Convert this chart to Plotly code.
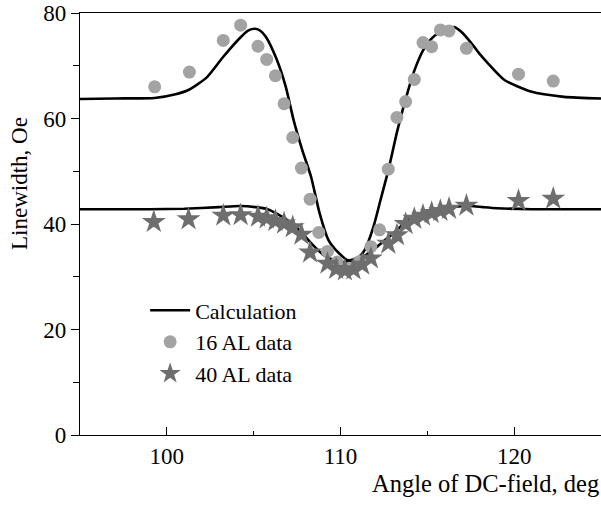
import plotly.graph_objects as go

# Calculation curves
calc16_x = [95, 97, 99.3, 100.5, 101.3, 102.3, 103.25, 104.25, 104.7, 105.1, 105.4, 105.7,
            106.3, 106.85, 107.3, 107.8, 108.3, 108.8, 109.3, 109.9, 110.45, 111.0, 111.4,
            111.9, 112.3, 112.77, 113.28, 113.9, 114.3, 114.77, 115.2, 115.63, 116.1, 116.58,
            117.0, 117.53, 118.0, 118.48, 119.44, 120.96, 122.87, 125]
calc16_y = [63.7, 63.8, 63.9, 64.6, 65.5, 67.8, 71.7, 75.4, 76.7, 77.0, 76.6, 75.5,
            71.4, 66.0, 59.7, 54.0, 49.0, 42.0, 37.0, 34.5, 33.1, 33.6, 35.1,
            39.5, 44.5, 50.4, 57.8, 65.4, 69.5, 73.0, 75.0, 76.2, 77.0, 77.3,
            76.3, 74.3, 72.3, 70.5, 67.3, 65.1, 64.1, 63.8]

calc40_x = [95, 99, 101, 103, 104.2, 105.1, 105.8, 106.3, 107.0, 107.5, 108.0, 108.5, 109.0,
            109.5, 110.0, 110.5, 111.0, 111.5, 112.0, 112.5, 113.0, 113.5, 114.0, 114.5,
            115.2, 116.0, 116.6, 117.5, 118.2, 119.0, 121.0, 125]
calc40_y = [42.8, 42.8, 42.9, 43.2, 43.4, 43.2, 42.8, 42.0, 40.6, 39.3, 37.5, 35.7, 34.2,
            33.3, 32.9, 32.8, 33.3, 34.2, 35.4, 36.8, 38.1, 39.6, 40.9, 41.7,
            42.4, 43.0, 43.3, 43.4, 43.2, 43.0, 42.8, 42.8]

# 16 AL data (circles)
al16_x = [99.3, 101.3, 103.25, 104.25, 105.25, 105.75, 106.25, 106.75, 107.25, 107.75,
          108.25, 108.75, 109.25, 109.8, 110.5, 111.1, 111.75, 112.25, 112.75, 113.25,
          113.75, 114.25, 114.75, 115.25, 115.75, 116.25, 117.25, 120.25, 122.25]
al16_y = [66.0, 68.8, 74.8, 77.7, 73.7, 71.2, 68.1, 62.8, 56.4, 50.6,
          44.7, 38.4, 34.8, 32.8, 31.6, 32.9, 35.7, 38.9, 50.4, 60.2,
          63.2, 67.4, 74.4, 73.6, 76.8, 76.6, 73.3, 68.4, 67.1]

# 40 AL data (stars)
al40_x = [99.25, 101.25, 103.25, 104.25, 105.25, 105.75, 106.25, 106.75, 107.25, 107.75,
          108.25, 109.25, 109.75, 110.25, 110.75, 111.25, 111.75, 112.75, 113.25, 113.75,
          114.25, 114.75, 115.25, 115.75, 116.25, 117.25, 120.25, 122.25]
al40_y = [40.4, 40.9, 41.6, 41.7, 41.4, 41.1, 40.6, 40.1, 39.4, 38.0,
          34.6, 32.5, 31.5, 31.2, 31.4, 32.3, 33.5, 36.3, 37.9, 40.0,
          41.0, 41.6, 42.1, 42.5, 42.9, 43.5, 44.4, 44.8]

FONT = "Liberation Serif"
FS = 23

fig = go.Figure()
fig.add_trace(go.Scatter(x=calc16_x, y=calc16_y, mode="lines", name="Calculation",
                         line=dict(color="black", width=2.6, shape="spline", smoothing=0.6)))
fig.add_trace(go.Scatter(x=calc40_x, y=calc40_y, mode="lines", showlegend=False,
                         line=dict(color="black", width=2.6, shape="spline", smoothing=0.6)))
fig.add_trace(go.Scatter(x=al16_x, y=al16_y, mode="markers", name="16 AL data",
                         marker=dict(symbol="circle", size=13, color="#a3a3a3")))
fig.add_trace(go.Scatter(x=al40_x, y=al40_y, mode="markers", name="40 AL data",
                         marker=dict(symbol="star", size=18, color="#6e6e6e")))

fig.update_layout(
    width=601, height=518,
    margin=dict(l=80, r=0, t=13, b=83),
    paper_bgcolor="white", plot_bgcolor="white",
    font=dict(family=FONT, size=FS, color="black"),
    showlegend=True,
    legend=dict(x=0.125, y=0.345, xanchor="left", yanchor="top",
                bgcolor="rgba(0,0,0,0)", font=dict(family=FONT, size=22),
                tracegroupgap=0, itemwidth=40),
    xaxis=dict(range=[95, 125], showgrid=False, zeroline=False,
               showline=True, linecolor="black", linewidth=1.3, mirror=True,
               tickmode="array", tickvals=[100, 110, 120],
               ticks="inside", ticklen=8, tickwidth=1.2, tickcolor="black",
               minor=dict(tickvals=[105, 115], ticks="inside", ticklen=4,
                          tickwidth=1.2, tickcolor="black"),
               tickfont=dict(family=FONT, size=FS)),
    yaxis=dict(range=[0, 80], showgrid=False, zeroline=False,
               showline=True, linecolor="black", linewidth=1.3,
               tickmode="array", tickvals=[0, 20, 40, 60, 80],
               ticks="outside", ticklen=8, tickwidth=1.2, tickcolor="black",
               minor=dict(tickvals=[10, 30, 50, 70], ticks="outside", ticklen=6,
                          tickwidth=1.2, tickcolor="black"),
               tickfont=dict(family=FONT, size=FS)),
    annotations=[
        dict(text="Angle of DC-field, deg", xref="paper", yref="paper",
             x=1.0, y=-0.114, xanchor="right", yanchor="middle", showarrow=False,
             font=dict(family=FONT, size=24.5)),
        dict(text="Linewidth, Oe", xref="paper", yref="paper",
             x=-0.115, y=0.595, xanchor="center", yanchor="middle", textangle=-90,
             showarrow=False, font=dict(family=FONT, size=FS)),
    ],
)

fig.write_html("out.html", config={"displayModeBar": False},
               post_script="document.body.style.margin='0';document.body.style.overflow='hidden';")
